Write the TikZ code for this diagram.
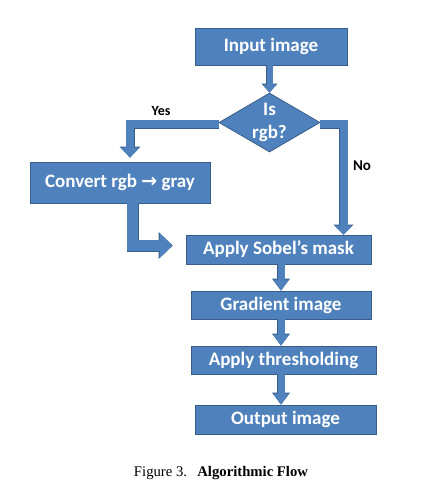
\documentclass[tikz,border=0pt]{standalone}
\usepackage{fontspec}
\setmainfont{Liberation Serif}
\newfontfamily\boxfont{Carlito}
\newfontfamily\symfont{DejaVu Sans}
\usetikzlibrary{shapes.geometric, arrows.meta, positioning}
\definecolor{boxblue}{RGB}{79, 129, 189}
\definecolor{edgeblue}{RGB}{56, 93, 138}

\begin{document}
\begin{tikzpicture}[
    x=1pt, y=-1pt,
    stepbox/.style={rectangle, draw=edgeblue, fill=boxblue, line width=0.8pt, text=white, font=\boxfont\bfseries\fontsize{19}{22}\selectfont, inner sep=0pt},
    decision/.style={diamond, draw=edgeblue, fill=boxblue, line width=0.8pt, minimum width=101pt, minimum height=59pt, inner sep=0pt},
    decisiontext/.style={text=white, align=center, font=\boxfont\bfseries\fontsize{19}{23}\selectfont},
    flow/.style n args={3}{draw=boxblue, line width=#1, -{Triangle[length=#3, width=#2, line width=0pt]},
        preaction={draw=edgeblue, line width=#1+1pt, -{Triangle[length=#3+1pt, width=#2+2pt, line width=0pt]}}},
    answer/.style={font=\boxfont\bfseries\fontsize{14}{16}\selectfont}
]
\useasboundingbox (0,0) rectangle (446,500);

% Boxes
\node (input) [stepbox, minimum width=152pt, minimum height=37pt] at (271,46.5) {Input image};
\node (rgb) [decision] at (269.5,122.5) {};
\node (rgbtext) [decisiontext] at (rgb.center) {Is\\rgb?};
\node (convert) [stepbox, minimum width=180pt, minimum height=41pt] at (120,182.5) {Convert rgb {\symfont\bfseries →} gray};
\node (sobel) [stepbox, minimum width=185pt, minimum height=29pt] at (278.5,249.5) {Apply Sobel’s mask};
\node (gradient) [stepbox, minimum width=180pt, minimum height=28pt] at (281,305) {Gradient image};
\node (thresh) [stepbox, minimum width=185pt, minimum height=28pt] at (283.5,360) {Apply thresholding};
\node (output) [stepbox, minimum width=181pt, minimum height=29pt] at (285.5,419.5) {Output image};

% Arrows
\draw [flow={6pt}{14pt}{8pt}] (input.south -| rgb.north) -- (rgb.north);
\draw [flow={8pt}{19pt}{10pt}] ([yshift=-1.5pt]rgb.west) -| ([xshift=10pt,yshift=4pt]convert.north);
\draw [flow={8pt}{18pt}{9pt}] ([yshift=-1.5pt]rgb.east) -| ([xshift=65pt]sobel.north);
\draw [flow={11pt}{25pt}{13pt}] ([xshift=12.5pt]convert.south) |- ([xshift=-13pt,yshift=4pt]sobel.west);
\draw [flow={7pt}{16pt}{11pt}] (sobel.south -| gradient.north) -- (gradient.north);
\draw [flow={7pt}{16pt}{11pt}] (gradient.south) -- (gradient.south |- thresh.north);
\draw [flow={7pt}{16pt}{11pt}] (gradient.south |- thresh.south) -- (gradient.south |- output.north);

% Labels
\node (yes) [answer] at (161,111) {Yes};
\node (no) [answer, font=\boxfont\bfseries\fontsize{15}{17}\selectfont] at (362,166) {No};

\node (caption) [font=\fontsize{14.7}{17}\selectfont] at (221,473) {Figure 3.\hspace{0.7em}\textbf{Algorithmic Flow}};

\end{tikzpicture}
\end{document}
